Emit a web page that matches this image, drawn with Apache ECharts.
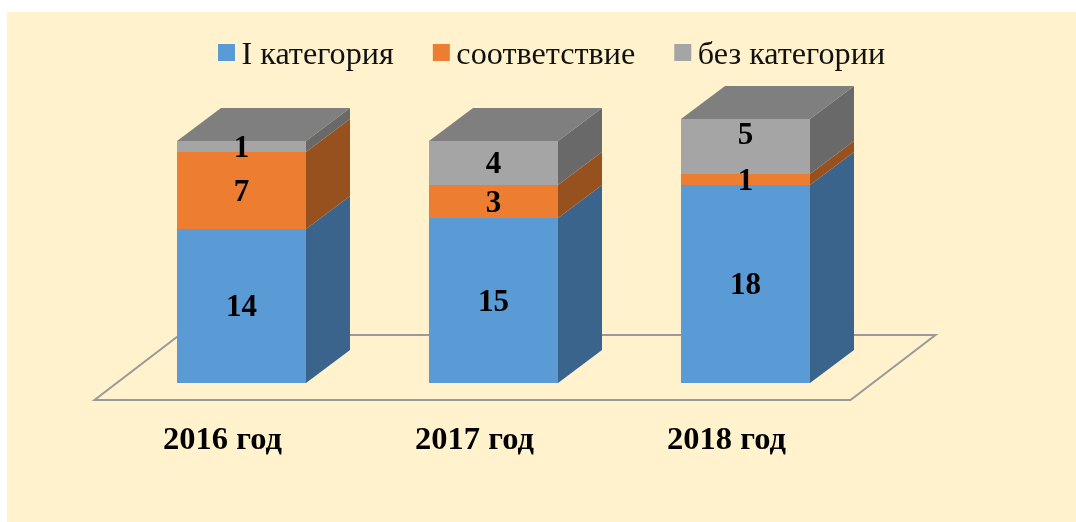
<!DOCTYPE html>
<html>
<head>
<meta charset="utf-8">
<style>html,body{margin:0;padding:0;background:#fff;}#c{width:1076px;height:522px;}</style>
<script src="https://cdn.jsdelivr.net/npm/echarts@6/dist/echarts.min.js"></script>
</head>
<body>
<div id="c"></div>
<script>
const categories = ['2016 год', '2017 год', '2018 год'];
const firstCategory = [14, 15, 18];
const compliance = [7, 3, 1];
const noCategory = [1, 4, 5];
const seriesNames = ['I категория', 'соответствие', 'без категории'];

const FONT = '"Liberation Serif","Times New Roman",serif';
const DEPTH_X = 44, DEPTH_Y = 33, BAR_WIDTH = 129;
const GRID = { left: 115.5, width: 756, top: 119, height: 264 };

function stackedRows(values, below) {
  return values.map((v, i) => {
    const base = below.reduce((sum, arr) => sum + arr[i], 0);
    return [i, base, base + v, v];
  });
}

function cuboid(front, side, top, isTop, labelShift) {
  return function (params, api) {
    const cx = api.coord([api.value(0), 0])[0];
    const y0 = api.coord([0, api.value(1)])[1];
    const y1 = api.coord([0, api.value(2)])[1];
    const l = cx - BAR_WIDTH / 2, r = cx + BAR_WIDTH / 2;
    const children = [
      { type: 'polygon', shape: { points: [[r, y0], [r + DEPTH_X, y0 - DEPTH_Y], [r + DEPTH_X, y1 - DEPTH_Y], [r, y1]] }, style: { fill: side } },
      { type: 'rect', shape: { x: l, y: y1, width: BAR_WIDTH, height: y0 - y1 }, style: { fill: front } }
    ];
    if (isTop) {
      children.push({ type: 'polygon', shape: { points: [[l, y1], [r, y1], [r + DEPTH_X, y1 - DEPTH_Y], [l + DEPTH_X, y1 - DEPTH_Y]] }, style: { fill: top } });
    }
    const shift = labelShift ? labelShift[params.dataIndex] : 0;
    children.push({
      type: 'text', z2: 10,
      style: { x: cx, y: (y0 + y1) / 2 + 2 + shift, text: String(api.value(3)), align: 'center', verticalAlign: 'middle',
        font: 'bold 31px ' + FONT, fill: '#000' }
    });
    return { type: 'group', children };
  };
}

function floorItem(params, api) {
  const cs = params.coordSys;
  const x0 = cs.x - 21, x1 = cs.x + cs.width - 21;
  const y = cs.y + cs.height + 17;
  const dx = 85, dy = 65;
  return {
    type: 'polygon', z2: 0,
    shape: { points: [[x0, y], [x1, y], [x1 + dx, y - dy], [x0 + dx, y - dy]] },
    style: { fill: 'none', stroke: '#9A9A9A', lineWidth: 2 }
  };
}

const option = {
  animation: false,
  backgroundColor: '#fff',
  graphic: [{ type: 'rect', z: -10, silent: true, shape: { x: 7, y: 12, width: 1069, height: 510 }, style: { fill: '#FFF2CC' } }],
  legend: {
    data: seriesNames, top: 35, left: 213,
    icon: 'rect', itemWidth: 17, itemHeight: 17, itemGap: 39,
    formatter: '{t|{name}}',
    textStyle: {
      fontFamily: FONT, fontSize: 32.2, color: '#111',
      rich: { t: { fontFamily: FONT, fontSize: 32.2, color: '#111', padding: [7, 0, 0, 1.5] } }
    }
  },
  grid: { left: GRID.left, width: GRID.width, top: GRID.top, height: GRID.height },
  xAxis: {
    type: 'category', data: categories,
    axisLine: { show: false }, axisTick: { show: false },
    axisLabel: { margin: 41, fontFamily: FONT, fontWeight: 'bold', fontSize: 32.5, color: '#000', padding: [0, 38, 0, 0] }
  },
  yAxis: { type: 'value', min: 0, max: 24, show: false, splitLine: { show: false } },
  series: [
    { type: 'custom', silent: true, z: 1, data: [[0]], renderItem: floorItem, encode: { x: 0 } },
    { type: 'custom', name: seriesNames[0], z: 2, itemStyle: { color: '#5B9BD5' }, encode: { x: 0, y: 2 },
      data: stackedRows(firstCategory, []), renderItem: cuboid('#5B9BD5', '#3A648C') },
    { type: 'custom', name: seriesNames[1], z: 2, itemStyle: { color: '#ED7D31' }, encode: { x: 0, y: 2 },
      data: stackedRows(compliance, [firstCategory]), renderItem: cuboid('#ED7D31', '#97511F') },
    { type: 'custom', name: seriesNames[2], z: 2, itemStyle: { color: '#A5A5A5' }, encode: { x: 0, y: 2 },
      data: stackedRows(noCategory, [firstCategory, compliance]), renderItem: cuboid('#A5A5A5', '#696969', '#7F7F7F', true, [0, 0, -13]) }
  ]
};
echarts.init(document.getElementById('c'), null, { renderer: 'canvas' }).setOption(option);
</script>
</body>
</html>
